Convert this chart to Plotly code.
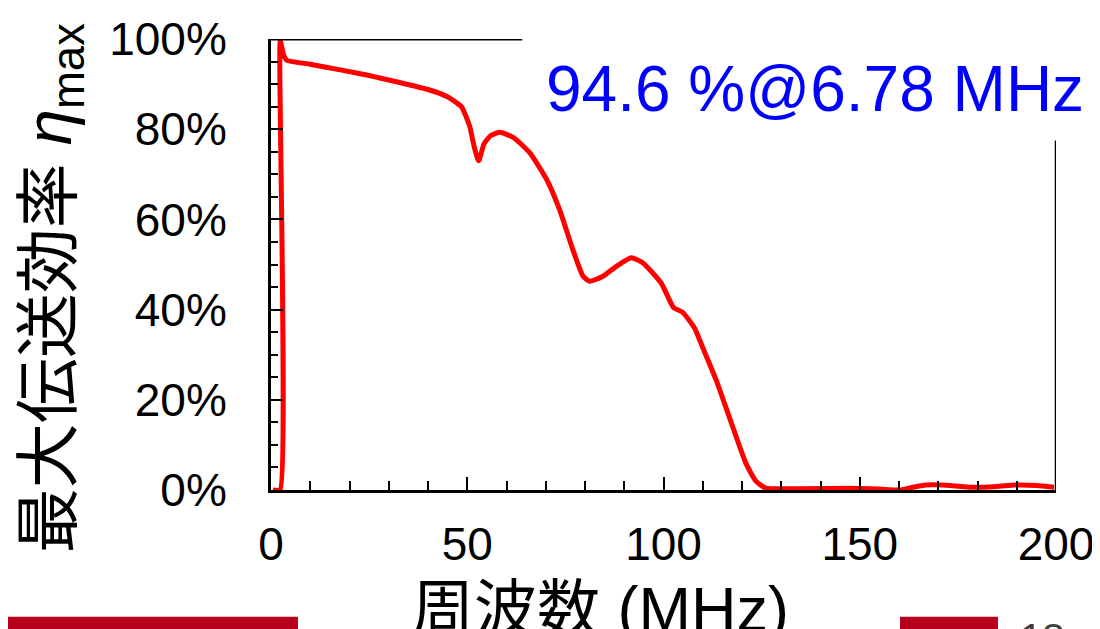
import plotly.graph_objects as go

# Data
freq_mhz = [0.5, 2.3, 2.35, 3.2, 4.0, 10, 18, 25, 28, 33, 40, 44.7, 48.5, 50.6, 51.8, 52.9,
            54.3, 56.0, 58.3, 61.7, 65.9, 70.2, 73.5, 76.9, 79.5, 81.2, 84.6, 88.0, 91.8,
            94.7, 99.4, 102.6, 104.9, 107.9, 109.8, 113.4, 117.6, 121.0, 123.6, 126.1,
            134.6, 147.3, 155.0, 160.0, 163.0, 166.8, 171.0, 178.7, 185.0, 189.7, 195.0, 199.5]
eff_pct = [0, 0, 99.6, 96.5, 95.3, 94.4, 93.1, 91.9, 91.3, 90.3, 88.8, 87.3, 85.0, 80.7, 76.0, 73.0,
           76.8, 78.6, 79.3, 78.2, 74.8, 68.9, 62.2, 53.3, 47.4, 46.3, 47.4, 49.6, 51.5,
           50.4, 45.9, 40.4, 39.4, 35.9, 32.0, 24.4, 14.1, 5.9, 1.9, 0.4,
           0.3, 0.4, 0.2, 0.0, 0.5, 1.1, 1.1, 0.6, 0.8, 1.1, 1.0, 0.6]

y_tick_vals = [0, 20, 40, 60, 80, 100]
y_tick_text = ["0%", "20%", "40%", "60%", "80%", "100%"]
x_tick_vals = [0, 50, 100, 150, 200]

annotation_text = "94.6 %@6.78 MHz"
y_title = "最大伝送効率 <i>η</i><sub>max</sub>"
x_title = "周波数 (MHz)"
page_number = "18"

# the page body has an 8 px margin, so the figure is sized to end at the window edge
OFF = 8
W, H = 1100 - OFF, 629 - OFF
PLOT_LEFT, PLOT_RIGHT, PLOT_TOP, PLOT_BOTTOM = 271, 1056, 38.5, 490   # page pixels
L, R, T, B = PLOT_LEFT - OFF, W - (PLOT_RIGHT - OFF), PLOT_TOP - OFF, H - (PLOT_BOTTOM - OFF)
pw, ph = PLOT_RIGHT - PLOT_LEFT, PLOT_BOTTOM - PLOT_TOP


def px_x(px):
    return (px - PLOT_LEFT) / pw


def px_y(py):
    return (PLOT_BOTTOM - py) / ph


fig = go.Figure()
fig.add_trace(go.Scatter(x=freq_mhz, y=eff_pct, mode="lines",
                         line=dict(color="#FF0000", width=5, shape="spline", smoothing=0.5),
                         showlegend=False))

tickfont = dict(family="Liberation Sans, Arial, sans-serif", size=46, color="black")

fig.update_layout(
    width=W, height=H,
    margin=dict(l=L, r=R, t=T, b=B, pad=0),
    paper_bgcolor="white", plot_bgcolor="white",
    xaxis=dict(range=[0, 200], tickvals=x_tick_vals, ticks="inside", ticklen=13, tickwidth=2,
               tickcolor="black", showline=True, linecolor="black", linewidth=3,
               showgrid=False, zeroline=False, tickfont=tickfont, ticklabelstandoff=12,
               automargin=False,
               minor=dict(dtick=10, ticks="inside", ticklen=9, tickwidth=2, tickcolor="black",
                          showgrid=False)),
    yaxis=dict(range=[0, 100], tickvals=y_tick_vals, ticktext=y_tick_text, ticks="inside",
               ticklen=12, tickwidth=2, tickcolor="black", showline=True, linecolor="black",
               linewidth=3, showgrid=False, zeroline=False, tickfont=tickfont,
               ticklabelstandoff=32, automargin=False,
               minor=dict(dtick=5, ticks="inside", ticklen=7, tickwidth=2, tickcolor="black",
                          showgrid=False)),
)

# partial frame: black top segment, grey continuation, right edge below the label
fig.add_shape(type="line", xref="x", yref="y", x0=0, x1=64, y0=100, y1=100,
              line=dict(color="black", width=3))
fig.add_shape(type="line", xref="x", yref="y", x0=64, x1=200, y0=100.2, y1=100.2,
              line=dict(color="#C8C8C8", width=1.5))
fig.add_shape(type="line", xref="x", yref="y", x0=200, x1=200, y0=0, y1=77.5,
              line=dict(color="black", width=2.5))

fig.add_annotation(x=69.5, y=89, xref="x", yref="y", xanchor="left", yanchor="middle",
                   text=annotation_text, showarrow=False,
                   font=dict(family="Liberation Sans, Arial, sans-serif", size=64, color="#0000FF"))

fig.add_annotation(x=px_x(53), y=px_y(288), xref="paper", yref="paper", xanchor="center",
                   yanchor="middle", textangle=-90, text=y_title, showarrow=False,
                   font=dict(family="Liberation Sans, Noto Sans CJK JP, sans-serif", size=65,
                             color="black"))

fig.add_annotation(x=px_x(600), y=px_y(572), xref="paper", yref="paper", xanchor="center",
                   yanchor="top", text=x_title, showarrow=False,
                   font=dict(family="Liberation Sans, Noto Sans CJK JP, sans-serif", size=63,
                             color="black"))

# slide decorations along the bottom edge
fig.add_shape(type="rect", xref="paper", yref="paper", x0=px_x(OFF), x1=px_x(298),
              y0=px_y(632), y1=px_y(617), line=dict(width=0), fillcolor="#B8001E")
fig.add_shape(type="rect", xref="paper", yref="paper", x0=px_x(900), x1=px_x(998),
              y0=px_y(632), y1=px_y(617), line=dict(width=0), fillcolor="#B8001E")
fig.add_annotation(x=px_x(1018), y=px_y(614), xref="paper", yref="paper", xanchor="left",
                   yanchor="top", text=page_number, showarrow=False,
                   font=dict(family="Liberation Sans, Arial, sans-serif", size=40, color="#404040"))

fig.write_html("out.html")
